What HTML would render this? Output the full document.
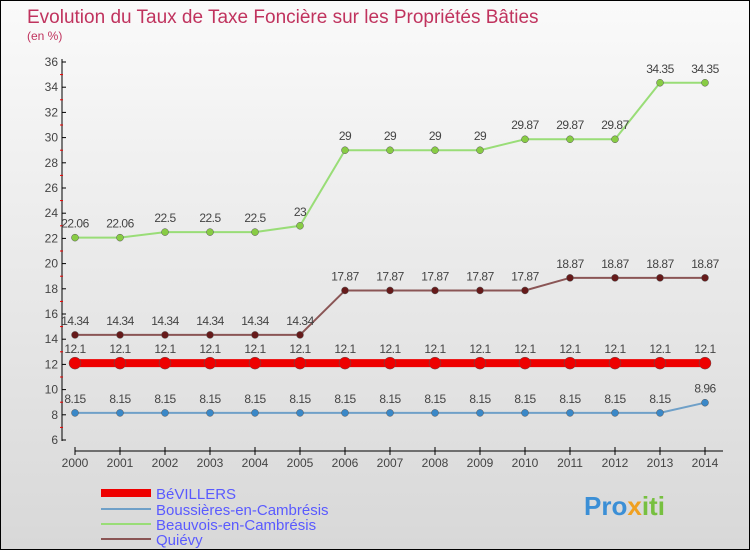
<!DOCTYPE html>
<html><head><meta charset="utf-8"><style>
body{margin:0}
#c{width:748px;height:548px;border:1px solid #000;background:linear-gradient(#fafafa,#d8d8d8);position:relative;font-family:"Liberation Sans",sans-serif}
</style></head><body>
<div id="c">
<svg width="748" height="548" id="s">
<text x="26" y="22" font-size="19" fill="#c0335e">Evolution du Taux de Taxe Foncière sur les Propriétés Bâties</text>
<text x="26" y="39" font-size="12" fill="#c0335e">(en %)</text>
<g id="g"></g>
<g>
<rect x="100" y="488" width="50" height="8" fill="#e00"/>
<text x="155" y="498" font-size="15" fill="#5a5aff">BéVILLERS</text>
<rect x="100" y="507" width="50" height="2" fill="#6fa0c8"/>
<text x="155" y="514" font-size="15" fill="#5a5aff">Boussières-en-Cambrésis</text>
<rect x="100" y="522" width="50" height="2" fill="#99dd77"/>
<text x="155" y="529" font-size="15" fill="#5a5aff">Beauvois-en-Cambrésis</text>
<rect x="100" y="537" width="50" height="2" fill="#8a5555"/>
<text x="155" y="544" font-size="15" fill="#5a5aff">Quiévy</text>
</g>
<text x="583" y="514" font-size="26" font-weight="bold" fill="#3b8fd6">Pro<tspan fill="#f0a020">x</tspan><tspan fill="#77c040">iti</tspan></text>
</svg></div>
<script>
const years=[2000,2001,2002,2003,2004,2005,2006,2007,2008,2009,2010,2011,2012,2013,2014];
const yTicks=[6,8,10,12,14,16,18,20,22,24,26,28,30,32,34,36];
const bevillers=[12.1,12.1,12.1,12.1,12.1,12.1,12.1,12.1,12.1,12.1,12.1,12.1,12.1,12.1,12.1];
const boussieres=[8.15,8.15,8.15,8.15,8.15,8.15,8.15,8.15,8.15,8.15,8.15,8.15,8.15,8.15,8.96];
const beauvois=[22.06,22.06,22.5,22.5,22.5,23,29,29,29,29,29.87,29.87,29.87,34.35,34.35];
const quievy=[14.34,14.34,14.34,14.34,14.34,14.34,17.87,17.87,17.87,17.87,17.87,18.87,18.87,18.87,18.87];
const NS="http://www.w3.org/2000/svg",g=document.getElementById('g');
const X=i=>74+i*45, Y=v=>439-(v-6)*(378/30);
function el(t,a,p){const e=document.createElementNS(NS,t);for(const k in a)e.setAttribute(k,a[k]);(p||g).appendChild(e);return e;}
let e=el('line',{x1:61,y1:58,x2:61,y2:440,stroke:'#000'});


e=el('line',{x1:74,y1:450,x2:722,y2:450,stroke:'#000'});


yTicks.forEach(v=>{el('line',{x1:61,y1:Y(v),x2:65,y2:Y(v),stroke:'#000'});
 if(v<36)el('line',{x1:59,y1:Y(v+1),x2:62,y2:Y(v+1),stroke:'#e00'});
 const t=el('text',{x:57,y:Y(v)+4,'font-size':12,fill:'#444','text-anchor':'end'});t.textContent=v;
 
 });
years.forEach((y,i)=>{el('line',{x1:X(i),y1:446,x2:X(i),y2:454,stroke:'#000'});
 const t=el('text',{x:X(i),y:466,'font-size':12,fill:'#444','text-anchor':'middle'});t.textContent=y;
 
 });
function series(d,col,w,r,fill,name){
 const p=el('polyline',{points:d.map((v,i)=>X(i)+','+Y(v)).join(' '),fill:'none',stroke:col,'stroke-width':w});
 
 
 d.forEach((v,i)=>{const c=el('circle',{cx:X(i),cy:Y(v),r:r,fill:fill,stroke:'#555','stroke-width':0.5});
  
  
  const t=el('text',{x:X(i),y:Y(v)-10,'font-size':12,fill:'#444','text-anchor':'middle','letter-spacing':'-0.5'});t.textContent=v;
  
  });
}
series(beauvois,'#99dd77',2,3.5,'#88cc44','beauvois');
series(quievy,'#8a5555',2,3.5,'#661a1a','quievy');
series(boussieres,'#6fa0c8',2,3.5,'#3a88c8','boussieres');
series(bevillers,'#e00',8,6,'#e00','bevillers');
</script>
</body></html>
